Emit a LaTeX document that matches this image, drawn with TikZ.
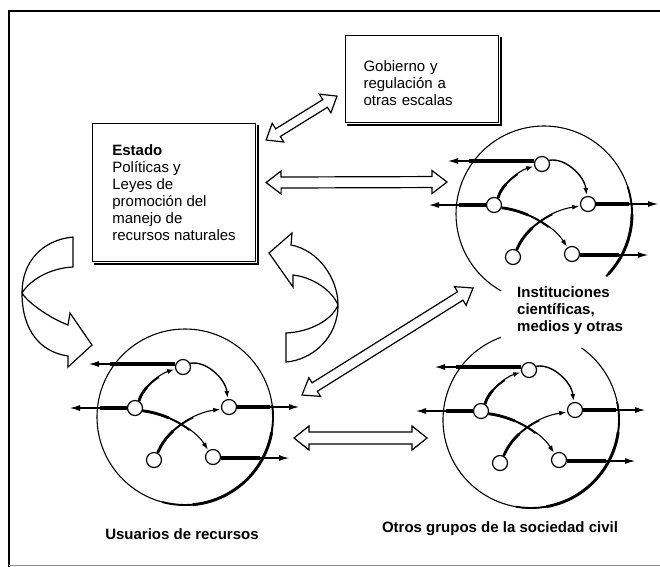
\documentclass[tikz,border=0pt]{standalone}
\usepackage{fontspec}
\setmainfont{Liberation Sans}
\usetikzlibrary{calc,arrows.meta}
\tikzset{
 sn/.style={circle,draw,line width=1.2pt,fill=white,minimum size=15pt,inner sep=0pt},
 thickbar/.style={line width=3.6pt},
 thinarr/.style={line width=1.1pt,-{Latex[length=10pt,width=6pt]}},
 curvarr/.style={line width=1.1pt,-{Latex[length=7pt,width=5pt]},shorten >=1pt},
 ring/.style={line width=1.1pt},
 hollow/.style={draw,line width=1.2pt,fill=white,line join=miter},
 btxt/.style={font=\fontsize{15}{17}\selectfont\bfseries,inner sep=0pt},
 boxnode/.style={draw,line width=1.1pt,font=\fontsize{15}{17}\selectfont,align=left,anchor=north west,inner sep=0pt},
 frameline/.style={line width=1.4pt},
 shadowline/.style={line width=2.2pt},
}
\newcommand{\splitpart}[2]{%
 \coordinate (s01) at ($(p0)!#1!(p1)$);
 \coordinate (s12) at ($(p1)!#1!(p2)$);
 \coordinate (s23) at ($(p2)!#1!(p3)$);
 \coordinate (s012) at ($(s01)!#1!(s12)$);
 \coordinate (s123) at ($(s12)!#1!(s23)$);
 \coordinate (sm) at ($(s012)!#1!(s123)$);
 \draw[line width=#2] (p0) .. controls (s01) and (s012) .. (sm);
}
\newcommand{\tcurve}[4]{%
 \path #1 coordinate (p0);
 \path #4 coordinate (p3);
 \coordinate (p1) at ($(p0)+(#2)$);
 \coordinate (p2) at ($(p3)+(#3)$);
 \draw[curvarr] (p0) .. controls (p1) and (p2) .. (p3);
 \splitpart{0.65}{1.8pt}
 \splitpart{0.35}{2.8pt}
}
\newcommand{\hollowarr}[5]{%
 \coordinate (ha1) at ($(#1)!#5!(#2)$);
 \coordinate (hb1) at ($(#2)!#5!(#1)$);
 \filldraw[hollow] (#1) -- ($(ha1)!#4!90:(#2)$) -- ($(ha1)!#3!90:(#2)$)
   -- ($(hb1)!#3!-90:(#1)$) -- ($(hb1)!#4!-90:(#1)$) -- (#2)
   -- ($(hb1)!#4!90:(#1)$) -- ($(hb1)!#3!90:(#1)$)
   -- ($(ha1)!#3!-90:(#2)$) -- ($(ha1)!#4!-90:(#2)$) -- cycle;
}
\newcommand{\grp}[2]{%
 \node[sn] (#1T) at ($(#2)+(-2,-50)$) {};
 \node[sn] (#1L) at ($(#2)+(-50,-9)$) {};
 \node[sn] (#1R) at ($(#2)+(44,-10)$) {};
 \node[sn] (#1BL) at ($(#2)+(-31,43)$) {};
 \node[sn] (#1BR) at ($(#2)+(28,40)$) {};
 \tcurve{(#1L.60)}{3,-13}{-16,5}{(#1T.195)}
 \draw[curvarr,line width=1.4pt] (#1T.27) .. controls +(16,-3) and +(-2,-20) .. (#1R.100);
 \tcurve{(#1L.340)}{25,3}{-14,-22}{(#1BR.125)}
 \tcurve{(#1BL.63)}{10,-24}{-28,4}{(#1R.195)}
 \draw[thickbar] ($(#1T.west)+(0,-3)$) -- ($(#2)+(-75,-53)$);
 \draw[thinarr] ($(#2)+(-73,-53)$) -- ($(#2)+(-96,-53)$);
 \draw[thickbar] (#1L.west) -- ($(#2)+(-85,-9)$);
 \draw[thinarr] ($(#2)+(-83,-9)$) -- ($(#2)+(-115,-9)$);
 \draw[thickbar] (#1R.east) -- ($(#2)+(85,-10)$);
 \draw[thinarr] ($(#2)+(83,-10)$) -- ($(#2)+(114,-10)$);
 \draw[thickbar] ($(#1BR.east)+(0,1)$) -- ($(#2)+(75,41)$);
 \draw[thinarr] ($(#2)+(73,41)$) -- ($(#2)+(104,41)$);
}
\begin{document}
\begin{tikzpicture}[x=1pt,y=-1pt]
\useasboundingbox (0,0) rectangle (660,566);
\clip (0,0) rectangle (660,566);
\fill[white] (0,0) rectangle (660,566);
\draw[frameline] (668,11) -- (9,11) -- (9,570);
\draw[line width=1pt, black!45] (9,565) -- (668,565);

% boxes
\node[boxnode, minimum width=153pt, minimum height=87pt, text width=117pt, inner xsep=18pt, inner ysep=0pt] (gob) at (345,35)
  {\rule{0pt}{19pt}Gobierno y\\regulación a\\otras escalas};
\draw[shadowline] ($(gob.north east)+(1.5,2)$) -- ($(gob.south east)+(1.5,1.5)$) -- ($(gob.south west)+(2,1.5)$);
\node[boxnode, minimum width=163pt, minimum height=138pt] (estado) at (92,123)
  {\textbf{Estado}\\Políticas y\\Leyes de\\promoción del\\manejo de\\recursos naturales};
\draw[shadowline] ($(estado.north east)+(1.5,2)$) -- ($(estado.south east)+(1.5,1.5)$) -- ($(estado.south west)+(2,1.5)$);

% rings
\coordinate (uc) at (185,417);
\coordinate (ic) at (544,214);
\coordinate (oc) at (531,420);
\draw[ring] (uc) circle[radius=88pt];
\draw[line width=1.9pt] ([shift={(-105:88pt)}]uc) arc[start angle=-105, end angle=8, radius=88pt];
\draw[line width=2.9pt] ([shift={(-85:88pt)}]uc) arc[start angle=-85, end angle=-10, radius=88pt];
\draw[ring] ([shift={(-45:88pt)}]ic) arc[start angle=-45, end angle=241, radius=88pt];
\draw[line width=1.9pt] ([shift={(-45:88pt)}]ic) arc[start angle=-45, end angle=18, radius=88pt];
\draw[line width=2.9pt] ([shift={(-43:88pt)}]ic) arc[start angle=-43, end angle=0, radius=88pt];
\draw[ring] ([shift={(110:88pt)}]oc) arc[start angle=110, end angle=415, radius=88pt];
\draw[line width=1.9pt] ([shift={(-100:88pt)}]oc) arc[start angle=-100, end angle=12, radius=88pt];
\draw[line width=2.9pt] ([shift={(-80:88pt)}]oc) arc[start angle=-80, end angle=-8, radius=88pt];

% groups
\grp{u}{uc}
\grp{i}{ic}
\grp{o}{oc}

% hollow double arrows
\coordinate (eg1) at ($(estado.north east)+(10,17)$);
\coordinate (eg2) at ($(gob.south west)+(-8,-27)$);
\hollowarr{eg1}{eg2}{4.5pt}{11pt}{14pt}
\coordinate (ei1) at ($(estado.east)+(10,-10)$);
\coordinate (ei2) at ($(ic)+(-97,-32)$);
\hollowarr{ei1}{ei2}{5.5pt}{11.5pt}{15pt}
\coordinate (ui1) at ($(uc)+(117,-22)$);
\coordinate (ui2) at ($(ic)+(-71,74)$);
\hollowarr{ui1}{ui2}{5pt}{11pt}{15pt}
\coordinate (uo1) at ($(uc)+(109,21)$);
\coordinate (uo2) at ($(oc)+(-104,18)$);
\hollowarr{uo1}{uo2}{6pt}{12pt}{15pt}

% curved ribbon arrows
\filldraw[hollow] (73,237) .. controls (42,240) and (22,262) .. (22,293)
   .. controls (22,330) and (40,352) .. (68,356)
   -- (68,367) -- (92,345) -- (70,313) -- (68,325)
   .. controls (50,318) and (28,303) .. (22,293)
   .. controls (30,280) and (50,268) .. (73,267) -- cycle;
\filldraw[hollow] (269,253) -- (292,233) -- (291,245)
   .. controls (318,250) and (338,278) .. (338,305)
   .. controls (338,338) and (312,360) .. (286,362)
   -- (286,333)
   .. controls (310,332) and (332,320) .. (338,305)
   .. controls (332,290) and (312,277) .. (293,275)
   -- (293,287) -- cycle;

% labels
\node[btxt, align=left, anchor=north west] (instl) at (517,286) {Instituciones\\científicas,\\medios y otras};
\node[btxt, anchor=base] (usul) at (182,539) {Usuarios de recursos};
\node[btxt, anchor=base] (otrl) at (500,532) {Otros grupos de la sociedad civil};
\end{tikzpicture}
\end{document}
